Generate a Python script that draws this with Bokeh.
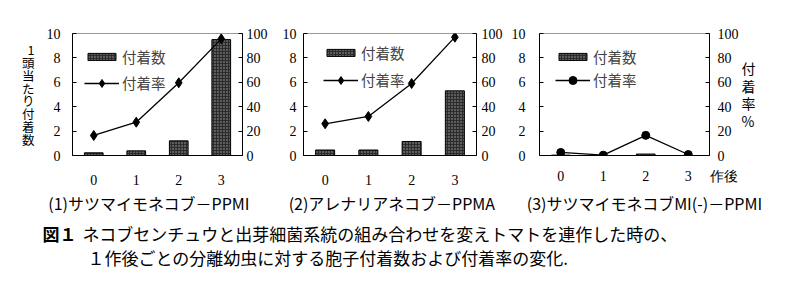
from bokeh.plotting import figure
from bokeh.models import (Range1d, LinearAxis, FixedTicker, Legend, LegendItem, AllLabels)
from bokeh.layouts import row, column
from bokeh.embed import file_html
from bokeh.resources import INLINE
from bokeh.core.properties import value

# ---------------- data ----------------
crops = [0, 1, 2, 3]
count1 = [0.22, 0.38, 1.2, 9.5]
rate1 = [16.4, 27.3, 59.6, 95.6]
count2 = [0.45, 0.45, 1.15, 5.3]
rate2 = [26, 32, 59, 97]
count3 = [0.03, 0.0, 0.12, 0.0]
rate3 = [2.5, 0.3, 16.5, 0.8]
left_ticks = [0, 2, 4, 6, 8, 10]
right_ticks = [0, 20, 40, 60, 80, 100]
crop_labels = ["0", "1", "2", "3"]
titles = ["(1)サツマイモネコブ－PPMI", "(2)アレナリアネコブ－PPMA", "(3)サツマイモネコブMI(-)－PPMI"]
legend_labels = ["付着数", "付着率"]
ylabel_left = "1頭当たり付着数"
ylabel_right = "付着率%"
xlabel = "作後"
caption_head = "図１"
caption1 = "ネコブセンチュウと出芽細菌系統の組み合わせを変えトマトを連作した時の、"
caption2 = "１作後ごとの分離幼虫に対する胞子付着数および付着率の変化."

JP = "Noto Sans CJK JP"
NUM = "Liberation Serif"
H = 222


def style_axis(ax, std):
    ax.major_label_text_font = NUM
    ax.major_label_text_font_size = "14px"
    ax.major_label_text_color = "black"
    ax.axis_line_color = "black"
    ax.axis_line_width = 1
    ax.major_tick_in = 4
    ax.major_tick_out = 0
    ax.major_tick_line_color = "black"
    ax.minor_tick_line_color = None
    ax.major_label_standoff = std


def vertical_label(ax, text, size, lh, standoff):
    has_orient = "axis_label_orientation" in ax.properties()
    ax.axis_label = "\n".join(text) if has_orient else text
    ax.axis_label_text_font = JP
    ax.axis_label_text_font_size = size
    ax.axis_label_text_font_style = "normal"
    ax.axis_label_text_color = "black"
    ax.axis_label_text_line_height = lh
    ax.axis_label_standoff = standoff
    if has_orient:
        ax.axis_label_orientation = "horizontal"


def make_panel(counts, rates, title, width, bl, br, marker, msize,
               std_l, std_r, leg_x, leg_y1, leg_y2, frame_px, title_px,
               x_std, sub_std, end_label=None):
    p = figure(width=width, height=H, x_range=Range1d(-0.5, 3.5), y_range=Range1d(0, 10),
               output_backend="svg", toolbar_location=None,
               min_border_left=bl, min_border_right=br, min_border_top=33, min_border_bottom=67)
    p.extra_y_ranges = {"rate": Range1d(0, 100)}
    p.extra_x_ranges = {"px": Range1d(*frame_px)}
    p.xgrid.visible = False
    p.ygrid.visible = False
    p.outline_line_color = "#9a9a9a"
    p.background_fill_color = "white"
    p.border_fill_color = "white"

    bars = p.vbar(x=crops, top=counts, width=0.44, fill_color="#2c2c2c", line_color="black",
                  line_width=1, hatch_pattern="dot", hatch_color="#a8a8a8", hatch_scale=3,
                  hatch_weight=1)
    ln = p.line(x=crops, y=rates, y_range_name="rate", line_color="black", line_width=1.3)
    pts = p.scatter(x=crops, y=rates, y_range_name="rate", marker=marker, size=msize,
                    fill_color="black", line_color="black")

    style_axis(p.yaxis[0], std_l)
    p.yaxis[0].ticker = FixedTicker(ticks=left_ticks)
    ra = LinearAxis(y_range_name="rate", ticker=FixedTicker(ticks=right_ticks))
    style_axis(ra, std_r)
    p.add_layout(ra, "right")

    # main x axis: crop number tick labels
    xa = p.xaxis[0]
    style_axis(xa, x_std)
    xa.major_tick_line_color = None
    xticks = list(crops)
    overrides = {c: lab for c, lab in zip(crops, crop_labels)}
    if end_label is not None:
        xticks.append(3.5)
        overrides[3.5] = "\u3000\u3000" + end_label
    xa.ticker = FixedTicker(ticks=xticks)
    xa.major_label_overrides = overrides
    xa.major_label_policy = AllLabels()

    # second x axis below: panel subtitle, placed in pixel coordinates of the frame
    sa = LinearAxis(x_range_name="px", ticker=FixedTicker(ticks=[title_px]),
                    major_label_overrides={title_px: title}, major_label_policy=AllLabels())
    sa.axis_line_color = None
    sa.major_tick_line_color = None
    sa.minor_tick_line_color = None
    sa.major_tick_in = 0
    sa.major_tick_out = 0
    sa.major_label_standoff = sub_std
    sa.major_label_text_font = JP
    sa.major_label_text_font_size = "16px"
    sa.major_label_text_color = "black"
    p.add_layout(sa, "below")

    common = dict(padding=0, margin=0, border_line_color=None, background_fill_alpha=0,
                  label_text_font=JP, label_text_font_size="14.5px", label_standoff=3,
                  glyph_width=35, click_policy="none")
    lg1 = Legend(items=[LegendItem(label=legend_labels[0], renderers=[bars])],
                 location=(leg_x, leg_y1), glyph_height=9, label_height=9, **common)
    lg2 = Legend(items=[LegendItem(label=legend_labels[1], renderers=[ln, pts])],
                 location=(leg_x, leg_y2), glyph_height=20, label_height=20, **common)
    p.add_layout(lg1)
    p.add_layout(lg2)
    return p, ra


p1, ra1 = make_panel(count1, rate1, titles[0], 270, 72, 27, "diamond", 10,
                     12, 4, 12, 88, 62, (72, 243), 149, 19, 3)
p2, ra2 = make_panel(count2, rate2, titles[1], 235, 33, 28, "diamond", 10,
                     7, 5, 20, 92, 65, (303, 477), 392, 19, 3)
p3, ra3 = make_panel(count3, rate3, titles[2], 295, 34, 91, "circle", 8,
                     14, 8, 16, 88, 65, (539, 704), 641, 13, 4, end_label=xlabel)

vertical_label(p1.yaxis[0], ylabel_left, "12.5px", 0.68, 9)
vertical_label(ra3, ylabel_right, "14px", 0.875, 0)

# caption
pc = figure(width=800, height=295 - H, x_range=Range1d(0, 800), y_range=Range1d(295 - H, 0),
            output_backend="svg", toolbar_location=None, min_border=0)
pc.axis.visible = False
pc.grid.visible = False
pc.outline_line_color = None
pc.text(x=[42], y=[11], text=[caption_head], text_font=value(JP), text_font_size="17px",
        text_font_style="bold", text_baseline="middle", text_color="black")
pc.text(x=[82], y=[11], text=[caption1], text_font=value(JP), text_font_size="17px",
        text_baseline="middle", text_color="black")
pc.text(x=[87], y=[35], text=[caption2], text_font=value(JP), text_font_size="17px",
        text_baseline="middle", text_color="black")

layout = column(row(p1, p2, p3, spacing=0), pc, spacing=0)
open("out.html", "w").write(file_html(layout, INLINE))
